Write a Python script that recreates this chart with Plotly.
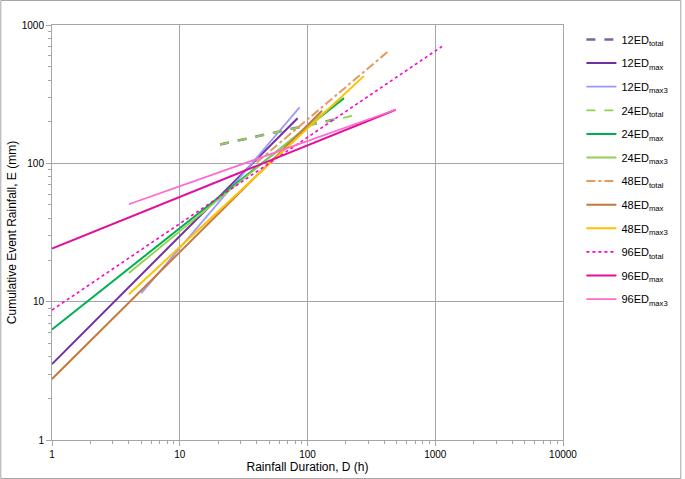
import plotly.graph_objects as go

# Series names
names = ["12ED<sub>total</sub>", "12ED<sub>max</sub>", "12ED<sub>max3</sub>",
         "24ED<sub>total</sub>", "24ED<sub>max</sub>", "24ED<sub>max3</sub>",
         "48ED<sub>total</sub>", "48ED<sub>max</sub>", "48ED<sub>max3</sub>",
         "96ED<sub>total</sub>", "96ED<sub>max</sub>", "96ED<sub>max3</sub>"]

# Endpoints of each fitted line (duration D in h, event rainfall E in mm)
d_12total = [20.7, 165]
e_12total = [137, 208]
d_12max = [1, 83.6]
e_12max = [3.54, 212]
d_12max3 = [5, 86.7]
e_12max3 = [11.5, 254]
d_24total = [20.7, 232]
e_24total = [137, 222]
d_24max = [1, 193]
e_24max = [6.3, 296]
d_24max3 = [4, 180]
e_24max3 = [16.1, 290]
d_48total = [40, 427]
e_48total = [101.6, 644]
d_48max = [1, 130]
e_48max = [2.76, 240]
d_48max3 = [4, 276]
e_48max3 = [11.3, 427]
d_96total = [1, 1130]
e_96total = [8.7, 700]
d_96max = [1, 490]
e_96max = [24.2, 244]
d_96max3 = [4, 490]
e_96max3 = [50.6, 244]

xs = [d_12total, d_12max, d_12max3, d_24total, d_24max, d_24max3,
      d_48total, d_48max, d_48max3, d_96total, d_96max, d_96max3]
ys = [e_12total, e_12max, e_12max3, e_24total, e_24max, e_24max3,
      e_48total, e_48max, e_48max3, e_96total, e_96max, e_96max3]

colors = ["#7B64A0", "#7030A0", "#9999FF",
          "#92D050", "#00B050", "#92D050",
          "#E59A5E", "#C47A3C", "#FFC000",
          "#FF00CC", "#E0109A", "#FF6ACD"]
dashes = ["dash", "solid", "solid",
          "dash", "solid", "solid",
          "dashdot", "solid", "solid",
          "dot", "solid", "solid"]
widths = [2.5, 2, 1.8, 1.8, 2, 1.8, 2, 2, 2, 1.6, 2, 1.8]

fig = go.Figure()
for i in range(len(names)):
    fig.add_trace(go.Scatter(
        x=xs[i], y=ys[i], mode="lines", name=names[i],
        line=dict(color=colors[i], dash=dashes[i], width=widths[i]),
        legendgroup=str(i),
    ))

axis_common = dict(
    type="log", showline=True, linecolor="#A6A6A6", linewidth=1, mirror=True,
    showgrid=True, gridcolor="#A6A6A6", gridwidth=1,
    ticks="outside", ticklen=5, tickcolor="#A6A6A6", dtick=1,
    minor=dict(ticks="outside", ticklen=3, tickcolor="#A6A6A6", showgrid=False, dtick="D1"),
    tickfont=dict(family="Liberation Sans", size=10, color="#000"),
    zeroline=False, automargin=False,
)

fig.update_layout(
    width=685, height=479,
    paper_bgcolor="white", plot_bgcolor="white",
    margin=dict(l=52, r=119, t=25, b=39),
    font=dict(family="Liberation Sans", color="#000"),
    xaxis=dict(range=[0, 4], tickvals=[1, 10, 100, 1000, 10000],
               ticktext=["1", "10", "100", "1000", "10000"],
               title=dict(text="Rainfall Duration, D (h)", font=dict(size=12), standoff=2),
               **axis_common),
    yaxis=dict(range=[0, 3], tickvals=[1, 10, 100, 1000],
               ticktext=["1", "10", "100", "1000"],
               title=dict(text="Cumulative Event Rainfall, E (mm)", font=dict(size=12), standoff=2),
               **axis_common),
    legend=dict(x=1.036, y=1.0, xanchor="left", yanchor="top",
                font=dict(size=11), tracegroupgap=4.6, bgcolor="rgba(0,0,0,0)"),
)

# outer figure border
fig.add_shape(type="rect", xref="paper", yref="paper",
              x0=-51.5/514, x1=1 + 118.5/514, y0=-38.5/415, y1=1 + 24.5/415,
              line=dict(color="#A6A6A6", width=1), layer="below")

fig.write_html("out.html", config={"displayModeBar": False},
               post_script=("document.documentElement.style.overflow='hidden';"
                            "document.body.style.overflow='hidden';"
                            "document.body.style.margin='0';document.body.style.padding='0';"))
